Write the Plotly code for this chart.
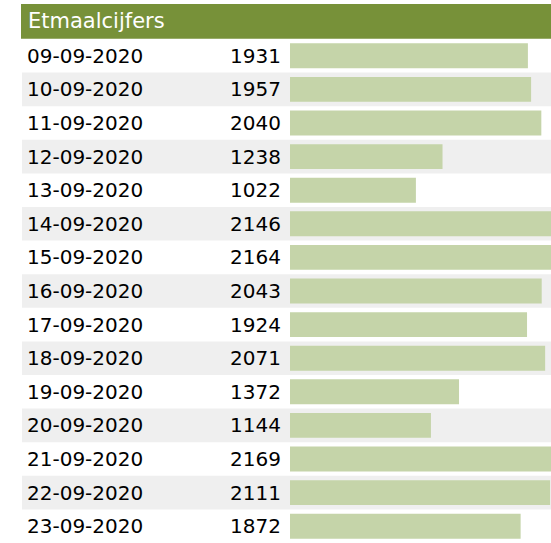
import plotly.graph_objects as go

# etmaalcijfers per dag
dates = ["09-09-2020", "10-09-2020", "11-09-2020", "12-09-2020", "13-09-2020",
         "14-09-2020", "15-09-2020", "16-09-2020", "17-09-2020", "18-09-2020",
         "19-09-2020", "20-09-2020", "21-09-2020", "22-09-2020", "23-09-2020"]
counts = [1931, 1957, 2040, 1238, 1022, 2146, 2164, 2043, 1924, 2071,
          1372, 1144, 2169, 2111, 1872]
title = "Etmaalcijfers"

W, H = 551, 543
font = "Verdana, DejaVu Sans, sans-serif"

fig = go.Figure(go.Bar(
    x=counts, y=dates, orientation="h",
    marker=dict(color="#c5d4a9", line=dict(width=0)),
    hovertemplate="%{y}: %{x}<extra></extra>",
))

# afwisselend grijze rijen
shapes = []
for i in range(1, len(dates), 2):
    shapes.append(dict(type="rect", xref="paper", yref="y",
                       x0=22 / W, x1=1, y0=i - 0.5, y1=i + 0.5,
                       fillcolor="#efefef", line=dict(width=0), layer="below"))
# kopbalk
shapes.append(dict(type="rect", xref="paper", yref="paper",
                   x0=21 / W, x1=1, y0=1 - 38.7 / H, y1=1 - 4 / H,
                   fillcolor="#779139", line=dict(width=0), layer="below"))

annotations = [dict(text=title, xref="paper", yref="paper", x=26 / W, y=1 - 21.5 / H,
                    xanchor="left", yanchor="middle", showarrow=False,
                    font=dict(family=font, size=21, color="white"))]
for d in dates:
    annotations.append(dict(text=d, xref="paper", yref="y", x=25 / W, y=d,
                            xanchor="left", yanchor="middle", showarrow=False,
                            font=dict(family=font, size=20, color="black")))

fig.update_layout(
    width=W, height=H,
    margin=dict(l=0, r=0, t=0, b=0),
    paper_bgcolor="white", plot_bgcolor="rgba(0,0,0,0)",
    bargap=0.26, showlegend=False,
    shapes=shapes, annotations=annotations,
    xaxis=dict(domain=[290 / W, 1], range=[0, 261 / 0.1232], visible=False, fixedrange=True),
    yaxis=dict(domain=[0, 1 - 39 / H], type="category", autorange="reversed",
               tickvals=dates, ticktext=[str(c) for c in counts],
               ticks="", showgrid=False, zeroline=False, showline=False,
               ticklabelstandoff=8, fixedrange=True,
               tickfont=dict(family=font, size=20, color="black")),
)

# geen standaard body-marge, zodat de grafiek linksboven begint
fig.write_html("out.html", config={"displayModeBar": False},
               post_script="document.body.style.margin='0';")
